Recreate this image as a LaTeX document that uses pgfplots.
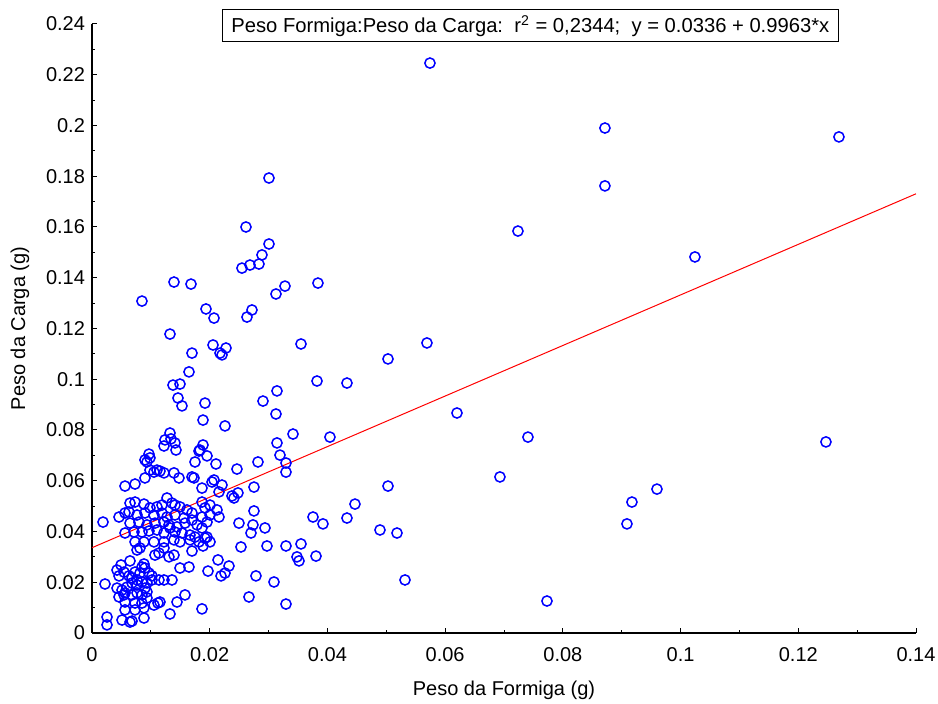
\documentclass[border=0pt]{standalone}
\usepackage{pgfplots}
\pgfplotsset{compat=1.18}
\usepackage{fontspec}
\setmainfont{Liberation Sans}
\begin{document}
\begin{tikzpicture}
\useasboundingbox (-46pt,-35.5pt) rectangle (423pt,316.5pt);
\begin{axis}[
  scale only axis, width=412pt, height=304.5pt,
  xmin=0, xmax=0.14, ymin=0, ymax=0.24,
  axis x line=bottom, axis y line=left,
  axis line style={-, line width=0.6pt},
  xtick={0,0.02,0.04,0.06,0.08,0.1,0.12,0.14},
  ytick={0,0.02,0.04,0.06,0.08,0.1,0.12,0.14,0.16,0.18,0.2,0.22,0.24},
  xticklabels={0,0.02,0.04,0.06,0.08,0.1,0.12,0.14},
  yticklabels={0,0.02,0.04,0.06,0.08,0.1,0.12,0.14,0.16,0.18,0.2,0.22,0.24},
  minor x tick num=1, minor y tick num=1,
  tick align=inside, major tick length=2.5pt, minor tick length=1.5pt,
  tick style={black, line width=0.5pt},
  ticklabel style={font=\fontsize{10}{11}\selectfont},
  xticklabel style={yshift=-3.5pt},
  xlabel={Peso da Formiga (g)}, ylabel={Peso da Carga (g)},
  label style={font=\fontsize{10}{12}\selectfont},
  xlabel style={at={(axis description cs:0.5,-0.0936)}, anchor=center},
  ylabel style={at={(axis description cs:-0.0874,0.5)}, anchor=center},
  clip=false,
]
\addplot[only marks, mark=o, mark size=2.55pt, color=blue, mark options={line width=0.75pt}] table {
x y
0.05742 0.2246
0.08715 0.1990
0.12691 0.1955
0.08715 0.1762
0.03007 0.1793
0.02616 0.1600
0.03007 0.1533
0.07237 0.1584
0.10244 0.1482
0.02888 0.1490
0.02837 0.1454
0.02684 0.1450
0.02548 0.1438
0.03279 0.1367
0.03126 0.1336
0.03839 0.1379
0.01393 0.1383
0.01682 0.1375
0.00849 0.1308
0.01937 0.1277
0.02718 0.1273
0.02073 0.1241
0.02633 0.1245
0.01325 0.1178
0.03551 0.1139
0.05691 0.1143
0.02056 0.1135
0.02277 0.1123
0.02175 0.1103
0.02209 0.1096
0.01699 0.1103
0.05029 0.1080
0.01648 0.1029
0.01495 0.0981
0.01376 0.0977
0.03823 0.0993
0.04332 0.0985
0.03143 0.0954
0.01461 0.0926
0.01920 0.0906
0.01529 0.0895
0.02905 0.0914
0.03126 0.0863
0.01886 0.0839
0.06201 0.0867
0.02260 0.0816
0.03415 0.0784
0.04043 0.0772
0.07407 0.0772
0.12470 0.0753
0.03143 0.0749
0.01325 0.0788
0.01240 0.0761
0.01342 0.0765
0.01410 0.0749
0.01223 0.0737
0.01427 0.0721
0.01886 0.0741
0.01835 0.0721
0.03194 0.0701
0.03296 0.0670
0.03296 0.0634
0.02820 0.0674
0.02107 0.0666
0.01954 0.0698
0.01818 0.0717
0.01750 0.0674
0.02463 0.0646
0.00968 0.0705
0.00900 0.0682
0.00985 0.0690
0.00934 0.0674
0.00985 0.0642
0.01104 0.0642
0.01155 0.0638
0.01053 0.0634
0.01223 0.0631
0.01393 0.0631
0.01478 0.0611
0.01699 0.0615
0.01733 0.0611
0.02073 0.0603
0.02039 0.0595
0.02209 0.0583
0.01869 0.0571
0.02158 0.0556
0.02752 0.0575
0.02378 0.0540
0.02412 0.0532
0.02480 0.0552
0.00561 0.0579
0.00731 0.0587
0.00900 0.0611
0.05029 0.0579
0.04468 0.0508
0.03755 0.0457
0.03924 0.0430
0.04332 0.0453
0.04893 0.0406
0.05182 0.0394
0.06931 0.0615
0.09089 0.0430
0.09174 0.0516
0.09599 0.0567
0.05318 0.0209
0.07730 0.0126
0.02752 0.0481
0.02497 0.0433
0.02735 0.0426
0.02701 0.0394
0.02939 0.0414
0.02531 0.0339
0.02973 0.0343
0.03296 0.0343
0.03551 0.0351
0.03483 0.0300
0.03517 0.0284
0.03806 0.0303
0.03092 0.0201
0.02667 0.0142
0.03296 0.0114
0.02786 0.0225
0.02327 0.0264
0.02260 0.0236
0.02192 0.0225
0.02141 0.0288
0.01971 0.0244
0.01869 0.0095
0.01869 0.0414
0.01886 0.0343
0.02005 0.0359
0.00646 0.0512
0.00731 0.0516
0.00883 0.0508
0.00985 0.0493
0.01104 0.0497
0.01189 0.0504
0.01274 0.0532
0.01359 0.0512
0.01410 0.0504
0.01495 0.0497
0.01614 0.0485
0.01699 0.0473
0.01869 0.0516
0.01920 0.0493
0.02005 0.0504
0.02124 0.0485
0.02158 0.0457
0.00561 0.0473
0.00629 0.0477
0.00765 0.0465
0.00900 0.0473
0.01053 0.0465
0.01189 0.0473
0.01274 0.0457
0.01410 0.0465
0.01563 0.0453
0.01699 0.0445
0.01869 0.0457
0.02005 0.0465
0.00646 0.0433
0.00798 0.0437
0.00934 0.0426
0.01070 0.0433
0.01223 0.0437
0.01308 0.0426
0.01444 0.0418
0.01580 0.0433
0.01784 0.0426
0.01954 0.0437
0.00561 0.0394
0.00714 0.0398
0.00849 0.0398
0.00968 0.0402
0.01104 0.0406
0.01223 0.0394
0.01325 0.0414
0.01410 0.0398
0.01529 0.0394
0.01665 0.0386
0.01750 0.0378
0.01920 0.0374
0.00731 0.0359
0.00883 0.0359
0.01053 0.0359
0.01223 0.0359
0.01393 0.0367
0.01495 0.0359
0.01665 0.0367
0.01818 0.0359
0.01954 0.0378
0.00187 0.0437
0.00459 0.0457
0.00815 0.0335
0.01138 0.0315
0.01070 0.0307
0.01223 0.0335
0.01308 0.0300
0.01393 0.0307
0.01699 0.0323
0.01495 0.0256
0.01648 0.0260
0.00493 0.0268
0.00646 0.0284
0.00849 0.0260
0.00883 0.0272
0.00900 0.0256
0.00731 0.0240
0.00815 0.0236
0.00968 0.0236
0.01019 0.0225
0.00425 0.0248
0.00459 0.0225
0.00544 0.0240
0.00629 0.0225
0.00680 0.0217
0.00765 0.0209
0.00849 0.0201
0.00934 0.0197
0.01019 0.0209
0.01138 0.0209
0.01223 0.0209
0.01359 0.0209
0.00425 0.0177
0.00510 0.0169
0.00595 0.0181
0.00680 0.0197
0.00765 0.0189
0.00900 0.0177
0.00934 0.0162
0.00459 0.0142
0.00544 0.0150
0.00561 0.0158
0.00680 0.0150
0.00765 0.0158
0.00849 0.0150
0.00934 0.0138
0.00561 0.0122
0.00731 0.0118
0.00849 0.0118
0.01053 0.0110
0.00561 0.0091
0.00731 0.0091
0.00883 0.0099
0.00221 0.0193
0.00255 0.0063
0.00255 0.0032
0.00510 0.0051
0.00646 0.0043
0.00680 0.0047
0.00883 0.0059
0.01325 0.0075
0.01580 0.0150
0.01444 0.0122
0.01121 0.0118
0.01155 0.0122
0.00765 0.0327
};
\addplot[red, line width=0.5pt] coordinates {(0,0.0336) (0.14,0.17308)};
\node[draw, fill=white, line width=0.5pt, minimum width=308pt, minimum height=16pt, inner sep=1pt, font=\fontsize{10.1}{11}\selectfont] at (rel axis cs:0.532,0.997) {Peso Formiga:Peso da Carga:\ \ r\textsuperscript{2} = 0,2344;\ \ y = 0.0336 + 0.9963*x};
\end{axis}
\end{tikzpicture}
\end{document}
